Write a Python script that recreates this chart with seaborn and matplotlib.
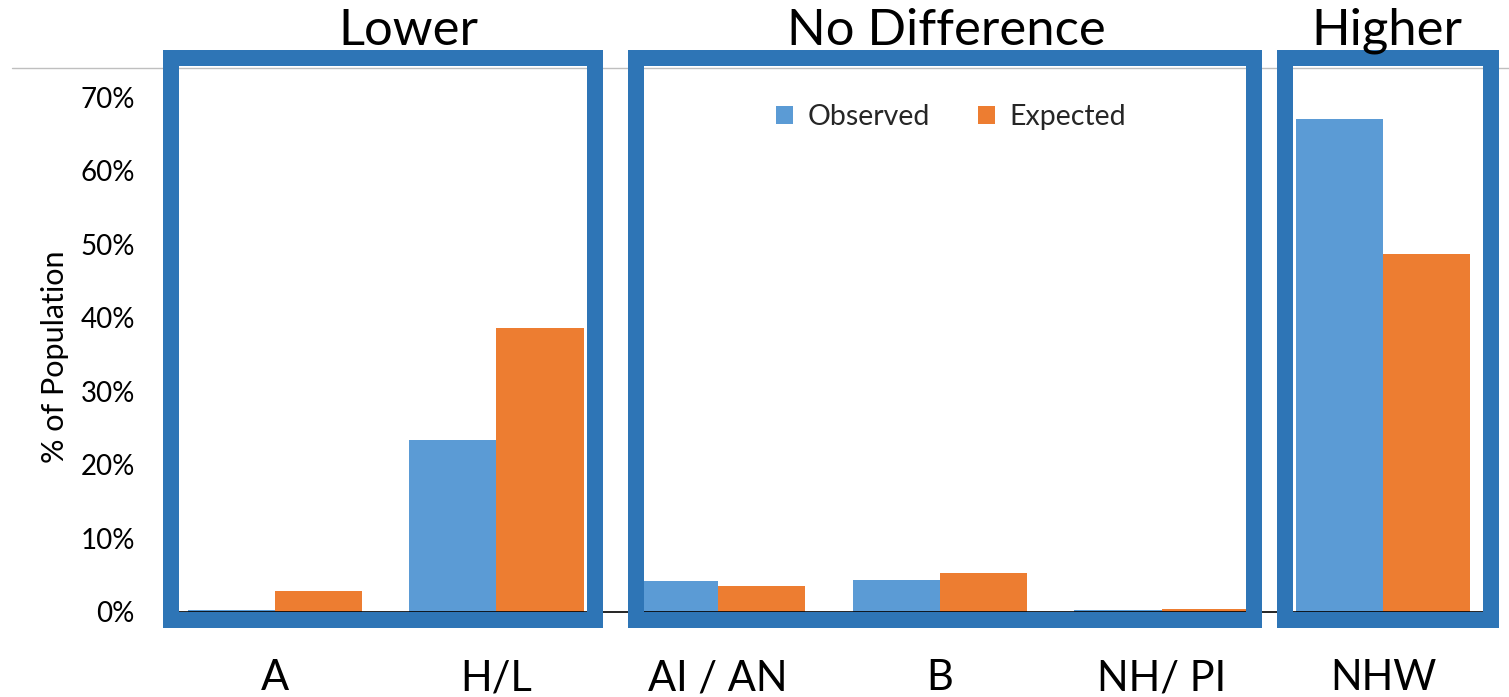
import matplotlib
matplotlib.use("Agg")
import matplotlib.pyplot as plt
import seaborn as sns
import pandas as pd
from matplotlib.patches import Rectangle, Patch
from matplotlib.lines import Line2D

# ---- data ----
categories = ["A", "H/L", "AI / AN", "B", "NH/ PI", "NHW"]
observed = [0.003, 0.234, 0.042, 0.044, 0.003, 0.670]
expected = [0.028, 0.386, 0.035, 0.053, 0.004, 0.487]
series = ["Observed", "Expected"]
ytick_values = [0.0, 0.1, 0.2, 0.3, 0.4, 0.5, 0.6, 0.7]
ytick_labels = ["0%", "10%", "20%", "30%", "40%", "50%", "60%", "70%"]
group_titles = ["Lower", "No Difference", "Higher"]
ylabel = "% of Population"

colors = ["#5B9BD5", "#ED7D31"]
box_color = "#2E75B6"

sns.set_theme(style="white")
plt.rcParams['font.family'] = ['Lato', 'DejaVu Sans']

W, H = 1509, 697
fig = plt.figure(figsize=(W / 100, H / 100), dpi=100)
ax = fig.add_axes([164 / W, 1 - 612 / H, (1494 - 164) / W, (612 - 68) / H])

df = pd.DataFrame({
    "category": categories * 2,
    "series": [series[0]] * len(categories) + [series[1]] * len(categories),
    "value": observed + expected,
})
sns.barplot(data=df, x="category", y="value", hue="series", hue_order=series,
            order=categories, palette=colors, saturation=1, width=0.786,
            linewidth=0, ax=ax)

if ax.legend_ is not None:
    ax.legend_.remove()

ax.set_xlim(-0.5, len(categories) - 0.5)
ax.set_ylim(0, 0.74)
ax.set_yticks(ytick_values)
ax.set_yticklabels(ytick_labels, fontsize=20, color="black")
ax.tick_params(axis="y", length=0, pad=21)
ax.tick_params(axis="x", length=0, pad=34, labelsize=30, labelcolor="black")
ax.set_xlabel("")
ax.set_ylabel("")
for s in ["top", "left", "right"]:
    ax.spines[s].set_visible(False)
ax.spines["bottom"].set_color("black")
ax.spines["bottom"].set_linewidth(1.2)

# y label
fig.text(55 / W, 1 - 357 / H, ylabel, rotation=90, ha="center", va="center",
         fontsize=22, color="black")

# top grey line
fig.add_artist(Line2D([12 / W, 1.0], [1 - 68 / H] * 2, transform=fig.transFigure,
                      color="#BFBFBF", lw=1, zorder=0.5))

# group boxes (decoration)
boxes = [(171, 595), (635.5, 1254), (1285, 1491)]
for (x0, x1) in boxes:
    fig.add_artist(Rectangle((x0 / W, 1 - 620 / H), (x1 - x0) / W, (620 - 58) / H,
                             transform=fig.transFigure, fill=False,
                             edgecolor=box_color, lw=16 * 0.72,
                             joinstyle="miter", zorder=2))

# group titles
title_x = [408, 946, 1387]
for t, x in zip(group_titles, title_x):
    fig.text(x / W, 1 - 45 / H, t, ha="center", va="baseline", fontsize=36.5,
             color="black")

# legend
leg_handles = [Patch(facecolor=c, edgecolor="none") for c in colors]
fig.legend(leg_handles, series, loc="center",
           bbox_to_anchor=(951 / W, 1 - 117 / H), ncol=2, frameon=False,
           fontsize=20.5, handlelength=0.6, handleheight=0.6, handletextpad=0.5,
           columnspacing=1.7)

fig.savefig("out.png", dpi=100)
